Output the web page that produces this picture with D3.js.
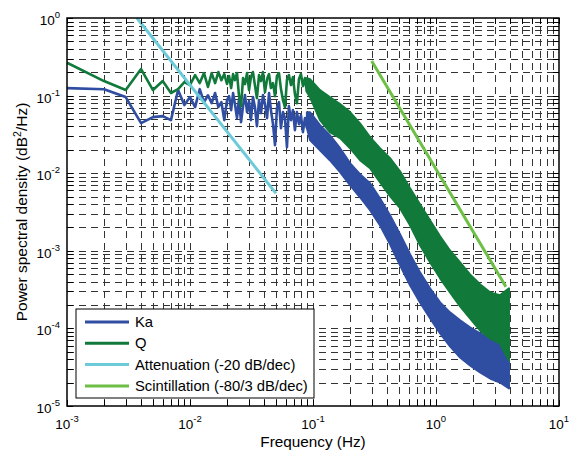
<!DOCTYPE html>
<html>
<head>
<meta charset="utf-8">
<script src="https://cdn.jsdelivr.net/npm/d3@7"></script>
<style>
body { margin: 0; background: #fff; }
text { font-family: "Liberation Sans", Arial, sans-serif; fill: #000; }
</style>
</head>
<body>
<svg width="577" height="454"></svg>
<script>
// spectrum as a line: first bins, then peaks / troughs up to ~0.09 Hz
const lineFreq = [0.001, 0.002, 0.003, 0.004, 0.005, 0.006, 0.007, 0.008, 0.009, 0.010,
                  0.011, 0.012, 0.013, 0.014, 0.015, 0.016, 0.017, 0.018, 0.019, 0.020,
                  0.0208, 0.0216, 0.0224, 0.0232, 0.0241, 0.025, 0.026, 0.027, 0.028, 0.0291,
                  0.0302, 0.0313, 0.0325, 0.0338, 0.035, 0.0364, 0.0378, 0.0392, 0.0407, 0.0423,
                  0.0439, 0.0455, 0.0473, 0.0491, 0.0509, 0.0529, 0.0549, 0.057, 0.0592, 0.0614,
                  0.0637, 0.0662, 0.0687, 0.0713, 0.074, 0.0769, 0.0798, 0.0828, 0.086, 0.0892];
const kaLine = [0.125, 0.121, 0.0957, 0.0442, 0.0528, 0.0544, 0.0483, 0.118, 0.0754, 0.0957,
                0.0711, 0.121, 0.0824, 0.101, 0.080, 0.108, 0.0711, 0.0824, 0.0483, 0.0875,
                0.0985, 0.065, 0.1077, 0.0777, 0.0513, 0.0901, 0.0455, 0.0732, 0.1015, 0.0612,
                0.0849, 0.0483, 0.0956, 0.069, 0.0404, 0.0875, 0.0594, 0.1015, 0.0777, 0.0513,
                0.1077, 0.065, 0.0429, 0.023, 0.069, 0.0824, 0.0381, 0.0612, 0.0513, 0.0216,
                0.0732, 0.0483, 0.065, 0.0359, 0.0612, 0.0429, 0.056, 0.0338, 0.0513, 0.0381];
const qLine = [0.265, 0.154, 0.118, 0.220, 0.118, 0.154, 0.108, 0.121, 0.149, 0.137,
               0.184, 0.145, 0.195, 0.129, 0.195, 0.145, 0.201, 0.158, 0.189, 0.141,
               0.1784, 0.125, 0.1894, 0.1585, 0.1951, 0.1015, 0.0732, 0.1681, 0.1407, 0.1951,
               0.1178, 0.1732, 0.201, 0.1326, 0.0928, 0.1838, 0.1538, 0.201, 0.111, 0.1632,
               0.1894, 0.125, 0.145, 0.0985, 0.1784, 0.1951, 0.1213, 0.0875, 0.0711, 0.1585,
               0.1838, 0.1366, 0.1732, 0.1045, 0.08, 0.1632, 0.1894, 0.1326, 0.1681, 0.111];

// beyond that the bins merge into a solid trace: its upper / lower edge
const bandFreq = [0.0892, 0.0945, 0.114, 0.137, 0.166, 0.2, 0.241, 0.291, 0.35, 0.423, 0.51,
                  0.615, 0.741, 0.894, 1.08, 1.3, 1.57, 1.89, 2.28, 2.75, 3.31, 3.92];
const kaHi = [0.0612, 0.0612, 0.0416, 0.0309, 0.021, 0.0135, 0.00971, 0.00743, 0.00476, 0.00287, 0.00163,
              0.000901, 0.000528, 0.000328, 0.000216, 0.000161, 0.000127, 0.000103, 0.0000862, 0.0000743, 0.000068, 0.000064];
const kaLo = [0.0381, 0.0267, 0.0198, 0.0147, 0.0103, 0.007, 0.0049, 0.00333, 0.00213, 0.00121, 0.00065,
              0.000359, 0.000216, 0.000135, 0.0000862, 0.0000586, 0.0000422, 0.0000333, 0.0000271, 0.0000226, 0.0000201, 0.0000168];
const qHi = [0.1681, 0.1632, 0.1178, 0.0956, 0.0777, 0.0612, 0.0438, 0.0291, 0.021, 0.0156, 0.0106,
             0.0064, 0.00398, 0.00247, 0.00154, 0.00101, 0.000711, 0.000497, 0.00037, 0.000291, 0.000267, 0.000328];
const qLo = [0.111, 0.0956, 0.0483, 0.0338, 0.0283, 0.021, 0.0147, 0.0116, 0.00766, 0.00505, 0.00354,
             0.00213, 0.00118, 0.000711, 0.000442, 0.000291, 0.000192, 0.000135, 0.0000942, 0.0000743, 0.000064, 0.0000386];

// fitted slopes
const attenFreq = [0.0037, 0.05];
const attenVals = [1.0, 0.0055];
const scintFreq = [0.3, 3.7];
const scintVals = [0.28, 0.000345];

const seriesNames = ["Ka", "Q", "Attenuation (-20 dB/dec)", "Scintillation (-80/3 dB/dec)"];
const seriesColors = ["#2f4ea2", "#117a3b", "#6ccbd8", "#6dbf45"];

const svg = d3.select("svg");
const pLeft = 67, pRight = 559, pTop = 18, pBottom = 406;

const x = d3.scaleLog().domain([1e-3, 10]).range([pLeft, pRight]);
const y = d3.scaleLog().domain([1e-5, 1]).range([pBottom, pTop]);

function logTicks(lo, hi) {
    const t = [];
    for (let e = lo; e < hi; e++) {
        for (let m = 1; m < 10; m++) t.push(m * Math.pow(10, e));
    }
    t.push(Math.pow(10, hi));
    return t;
}
const xTicks = logTicks(-3, 1);
const yTicks = logTicks(-5, 0);

// dashed grid, major and minor
svg.append("g")
    .attr("class", "grid")
    .attr("transform", `translate(0,${pBottom})`)
    .call(d3.axisBottom(x).tickValues(xTicks.slice(1, -1)).tickSize(-(pBottom - pTop)).tickFormat(""));
svg.append("g")
    .attr("class", "grid")
    .attr("transform", `translate(${pLeft},0)`)
    .call(d3.axisLeft(y).tickValues(yTicks.slice(1, -1)).tickSize(-(pRight - pLeft)).tickFormat(""));
svg.selectAll(".grid .domain").remove();
svg.selectAll(".grid line")
    .attr("stroke", "#333")
    .attr("stroke-width", 1)
    .attr("stroke-dasharray", "7,5")
    .attr("shape-rendering", "crispEdges");

svg.append("clipPath").attr("id", "plot")
    .append("rect").attr("x", pLeft).attr("y", pTop).attr("width", pRight - pLeft).attr("height", pBottom - pTop);

const plot = svg.append("g").attr("clip-path", "url(#plot)");

const line = d3.line().x(d => x(d[0])).y(d => y(d[1]));
const area = d3.area().x(d => x(d[0])).y0(d => y(d[2])).y1(d => y(d[1]));

function drawTrace(vals, hi, lo, color) {
    plot.append("path")
        .datum(lineFreq.map((f, i) => [f, vals[i]]))
        .attr("d", line)
        .attr("fill", "none")
        .attr("stroke", color)
        .attr("stroke-width", 2.6)
        .attr("stroke-linejoin", "round");
    plot.append("path")
        .datum(bandFreq.map((f, i) => [f, hi[i], lo[i]]))
        .attr("d", area)
        .attr("fill", color)
        .attr("stroke", color)
        .attr("stroke-width", 2)
        .attr("stroke-linejoin", "round");
}
drawTrace(kaLine, kaHi, kaLo, seriesColors[0]);
drawTrace(qLine, qHi, qLo, seriesColors[1]);

plot.append("path")
    .datum(attenFreq.map((f, i) => [f, attenVals[i]]))
    .attr("d", line)
    .attr("fill", "none")
    .attr("stroke", seriesColors[2])
    .attr("stroke-width", 3);
plot.append("path")
    .datum(scintFreq.map((f, i) => [f, scintVals[i]]))
    .attr("d", line)
    .attr("fill", "none")
    .attr("stroke", seriesColors[3])
    .attr("stroke-width", 3);

// inward ticks on all four sides
const tl = 6;
[
    [d3.axisBottom(x).tickValues(xTicks), `translate(0,${pBottom})`],
    [d3.axisTop(x).tickValues(xTicks), `translate(0,${pTop})`],
    [d3.axisLeft(y).tickValues(yTicks), `translate(${pLeft},0)`],
    [d3.axisRight(y).tickValues(yTicks), `translate(${pRight},0)`]
].forEach(([ax, tr]) => {
    const g = svg.append("g").attr("class", "ticks").attr("transform", tr)
        .call(ax.tickSize(-tl).tickFormat(""));
    g.select(".domain").remove();
    g.selectAll("line").attr("stroke", "#000").attr("stroke-width", 1)
        .attr("shape-rendering", "crispEdges");
});

svg.append("rect")
    .attr("x", pLeft).attr("y", pTop)
    .attr("width", pRight - pLeft).attr("height", pBottom - pTop)
    .attr("fill", "none").attr("stroke", "#000").attr("stroke-width", 1.5);

// tick labels 10^n
const xLabels = [-3, -2, -1, 0, 1];
const yLabels = [-5, -4, -3, -2, -1, 0];

xLabels.forEach(e => {
    const t = svg.append("text")
        .attr("x", x(Math.pow(10, e)))
        .attr("y", 429)
        .attr("text-anchor", "middle")
        .style("font-size", "13.5px");
    t.append("tspan").text("10");
    t.append("tspan").attr("dy", -7).style("font-size", "9.5px").text(e);
});
yLabels.forEach(e => {
    const t = svg.append("text")
        .attr("x", 60)
        .attr("y", y(Math.pow(10, e)) + 7)
        .attr("text-anchor", "end")
        .style("font-size", "13.5px");
    t.append("tspan").text("10");
    t.append("tspan").attr("dy", -7).style("font-size", "9.5px").text(e);
});

svg.append("text")
    .attr("x", 313)
    .attr("y", 447)
    .attr("text-anchor", "middle")
    .style("font-size", "15.3px")
    .text("Frequency (Hz)");

const yl = svg.append("text")
    .attr("transform", `translate(27,${(pTop + pBottom) / 2}) rotate(-90)`)
    .attr("text-anchor", "middle")
    .style("font-size", "15.5px");
yl.append("tspan").text("Power spectral density (dB");
yl.append("tspan").attr("dy", -6).style("font-size", "10.5px").text("2");
yl.append("tspan").attr("dy", 6).text("/Hz)");

// legend
const legend = svg.append("g").attr("transform", "translate(76,309)");
legend.append("rect")
    .attr("width", 238).attr("height", 89)
    .attr("fill", "#fff").attr("stroke", "#000").attr("stroke-width", 1);
seriesNames.forEach((name, i) => {
    const ry = 13 + i * 21.3;
    legend.append("line")
        .attr("x1", 9).attr("x2", 53).attr("y1", ry).attr("y2", ry)
        .attr("stroke", seriesColors[i]).attr("stroke-width", 3);
    legend.append("text")
        .attr("x", 59).attr("y", ry + 5)
        .style("font-size", "14.8px")
        .text(name);
});
</script>
</body>
</html>
